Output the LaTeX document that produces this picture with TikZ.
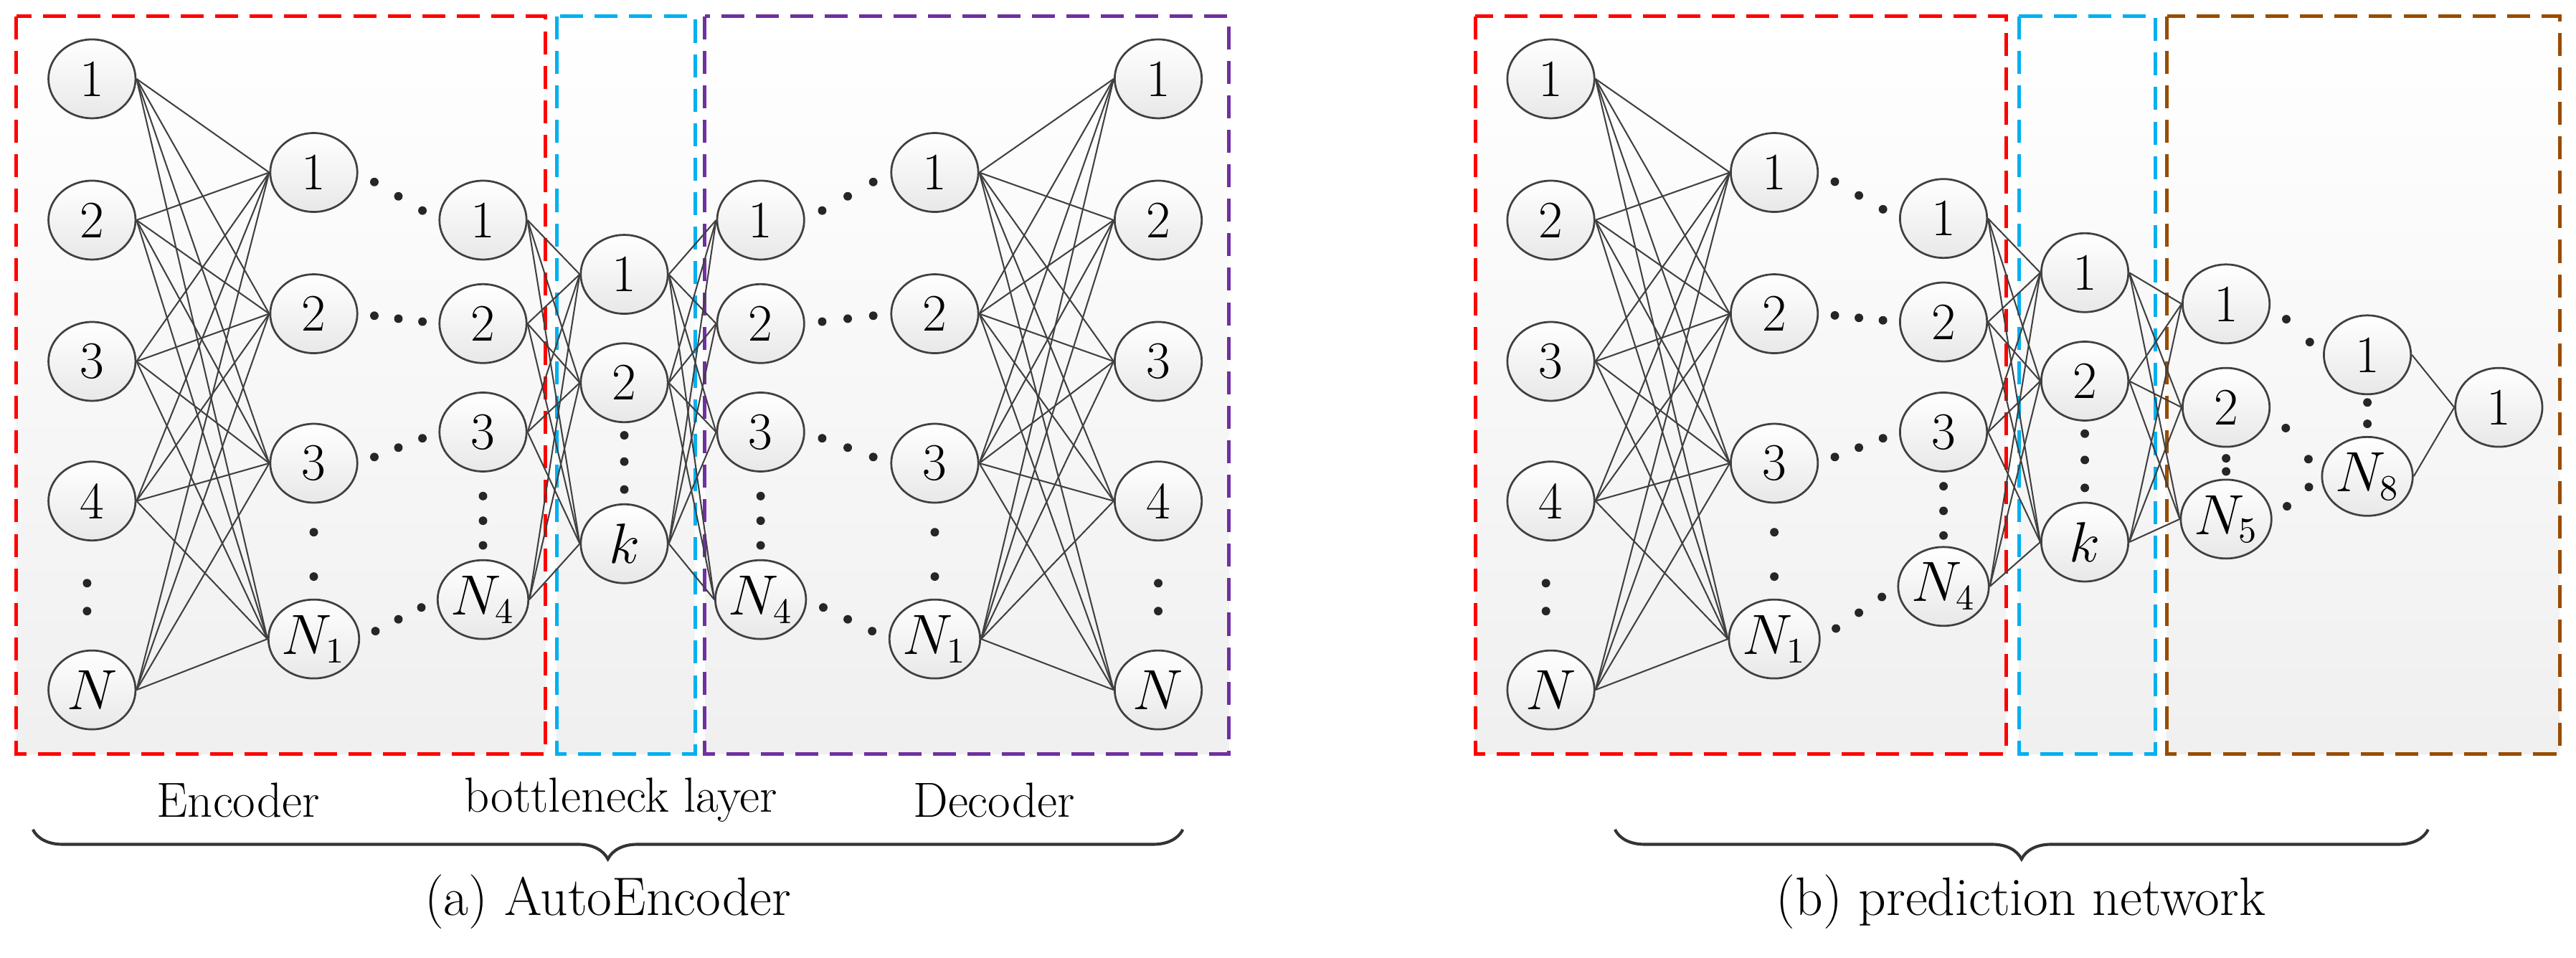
\documentclass[tikz,border=0pt]{standalone}
\usetikzlibrary{shapes.geometric,calc,decorations.pathreplacing}
\begin{document}
\begin{tikzpicture}[x=0.5pt,y=-0.5pt,
  nd/.style={ellipse,draw=black!75,line width=0.6pt,minimum width=26.5pt,minimum height=24pt,inner sep=0pt,top color=white,bottom color=gray!18,font=\fontsize{16}{16}\selectfont},
  ed/.style={draw=black!75,line width=0.45pt},
  dt/.style={circle,fill=black!85,inner sep=0pt,minimum size=2.6pt},
  bx/.style={dashed,line width=1.1pt,dash pattern=on 7pt off 3.5pt},
  bg/.style={top color=white,bottom color=gray!12,draw=none},
  lb/.style={font=\fontsize{15}{17}\selectfont},
  captxt/.style={font=\fontsize{16.5}{19}\selectfont},
  br/.style={decorate,decoration={brace,mirror,amplitude=9pt},line width=0.9pt,draw=black!80}]
\useasboundingbox (0,0) rectangle (1568,583);
\definecolor{cr}{RGB}{255,0,0}\definecolor{cb}{RGB}{0,176,240}\definecolor{cp}{RGB}{112,48,160}\definecolor{co}{RGB}{153,76,0}
% backgrounds
\fill[bg] (10,10) rectangle (332,459);
\fill[bg] (339,10) rectangle (423,459);
\fill[bg] (429,10) rectangle (748,459);
\fill[bg] (898,10) rectangle (1221,459);
\fill[bg] (1229,10) rectangle (1312,459);
\fill[bg] (1319,10) rectangle (1558,459);
\draw[bx,cr] (10,10) rectangle (332,459);
\draw[bx,cb] (339,10) rectangle (423,459);
\draw[bx,cp] (429,10) rectangle (748,459);
\draw[bx,cr] (898,10) rectangle (1221,459);
\draw[bx,cb] (1229,10) rectangle (1312,459);
\draw[bx,co] (1319,10) rectangle (1558,459);
% ---------- left panel ----------
\foreach \n/\y/\t in {1/48/1,2/134/2,3/220/3,4/305/4,5/420/$N$}{\node[nd] (A\n) at (56,\y) {\t};}
\foreach \n/\y/\t in {1/105/1,2/191/2,3/282/3,4/389/$N_1$}{\node[nd] (B\n) at (191,\y) {\t};}
\foreach \n/\y/\t in {1/134/1,2/197/2,3/263/3,4/365/$N_4$}{\node[nd] (C\n) at (294,\y) {\t};}
\foreach \n/\y/\t in {1/167/1,2/233/2,3/331/$k$}{\node[nd] (K\n) at (380,\y) {\t};}
\foreach \n/\y/\t in {1/134/1,2/197/2,3/263/3,4/365/$N_4$}{\node[nd] (D\n) at (463,\y) {\t};}
\foreach \n/\y/\t in {1/105/1,2/191/2,3/282/3,4/389/$N_1$}{\node[nd] (E\n) at (569,\y) {\t};}
\foreach \n/\y/\t in {1/48/1,2/134/2,3/220/3,4/305/4,5/420/$N$}{\node[nd] (F\n) at (705,\y) {\t};}
\foreach \i in {1,...,5}{\foreach \j in {1,...,4}{\draw[ed] (A\i.east) -- (B\j.west); \draw[ed] (E\j.east) -- (F\i.west);}}
\foreach \i in {1,...,4}{\foreach \j in {1,...,3}{\draw[ed] (C\i.east) -- (K\j.west); \draw[ed] (K\j.east) -- (D\i.west);}}
\foreach \i in {1,...,4}{\foreach \f in {0.2,0.5,0.8}{\node[dt] (dl\i\f) at ($(B\i.east)!\f!(C\i.west)$) {}; \node[dt] (dr\i\f) at ($(D\i.east)!\f!(E\i.west)$) {};}}
\node[dt] (v1) at (53,355) {}; \node[dt] (v2) at (53,372) {};
\node[dt] (v3) at (191,324) {}; \node[dt] (v4) at (191,351) {};
\node[dt] (v5) at (294,302) {}; \node[dt] (v6) at (294,317) {}; \node[dt] (v7) at (294,332) {};
\node[dt] (v8) at (380,265) {}; \node[dt] (v9) at (380,281) {}; \node[dt] (v10) at (380,298) {};
\node[dt] (v11) at (463,302) {}; \node[dt] (v12) at (463,317) {}; \node[dt] (v13) at (463,332) {};
\node[dt] (v14) at (569,324) {}; \node[dt] (v15) at (569,351) {};
\node[dt] (v16) at (705,355) {}; \node[dt] (v17) at (705,372) {};
\node[lb] (l1) at (145,487) {Encoder};
\node[lb] (l2) at (378,487) {bottleneck layer};
\node[lb] (l3) at (605,487) {Decoder};
\coordinate (bA) at (20,505); \coordinate (bB) at (720,505);
\draw[br] (bA) -- (bB);
\node[captxt] (ta) at (370,549) {(a) AutoEncoder};
% ---------- right panel ----------
\foreach \n/\y/\t in {1/48/1,2/134/2,3/220/3,4/305/4,5/420/$N$}{\node[nd] (a\n) at (944,\y) {\t};}
\foreach \n/\y/\t in {1/105/1,2/191/2,3/282/3,4/389/$N_1$}{\node[nd] (b\n) at (1080,\y) {\t};}
\foreach \n/\y/\t in {1/133/1,2/196/2,3/263/3,4/357/$N_4$}{\node[nd] (c\n) at (1183,\y) {\t};}
\foreach \n/\y/\t in {1/166/1,2/232/2,3/330/$k$}{\node[nd] (k\n) at (1269,\y) {\t};}
\foreach \n/\y/\t in {1/185/1,2/248/2,3/316/$N_5$}{\node[nd] (p\n) at (1355,\y) {\t};}
\node[nd] (q1) at (1441,216) {1};
\node[nd] (q2) at (1441,290) {$N_8$};
\node[nd] (r) at (1521,248) {1};
\foreach \i in {1,...,5}{\foreach \j in {1,...,4}{\draw[ed] (a\i.east) -- (b\j.west);}}
\foreach \i in {1,...,4}{\foreach \j in {1,...,3}{\draw[ed] (c\i.east) -- (k\j.west);}}
\foreach \i in {1,...,3}{\foreach \j in {1,...,3}{\draw[ed] (k\i.east) -- (p\j.west);}}
\draw[ed] (q1.east) -- (r.west); \draw[ed] (q2.east) -- (r.west);
\foreach \i in {1,...,4}{\foreach \f in {0.2,0.5,0.8}{\node[dt] (ed\i\f) at ($(b\i.east)!\f!(c\i.west)$) {};}}
\foreach \s/\t in {1/1,2/2,3/2}{\foreach \f in {0.3,0.75}{\node[dt] (fd\s\f) at ($(p\s.east)!\f!(q\t.west)$) {};}}
\node[dt] (w1) at (941,355) {}; \node[dt] (w2) at (941,372) {};
\node[dt] (w3) at (1080,324) {}; \node[dt] (w4) at (1080,351) {};
\node[dt] (w5) at (1183,296) {}; \node[dt] (w6) at (1183,311) {}; \node[dt] (w7) at (1183,326) {};
\node[dt] (w8) at (1269,264) {}; \node[dt] (w9) at (1269,280) {}; \node[dt] (w10) at (1269,297) {};
\node[dt] (w11) at (1355,279) {}; \node[dt] (w12) at (1355,287) {};
\node[dt] (w13) at (1441,245) {}; \node[dt] (w14) at (1441,258) {};
\coordinate (bC) at (983,505); \coordinate (bD) at (1478,505);
\draw[br] (bC) -- (bD);
\node[captxt] (tb) at (1230,549) {(b) prediction network};
\end{tikzpicture}
\end{document}
